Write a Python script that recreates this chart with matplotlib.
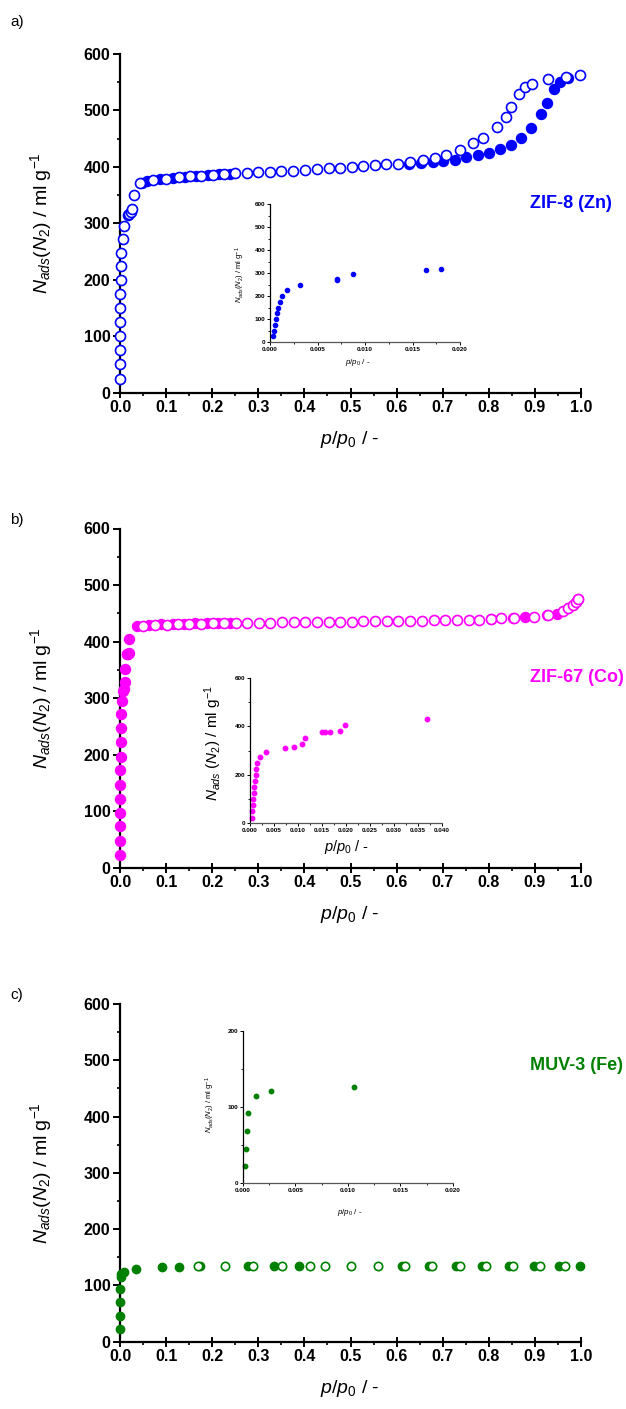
import matplotlib
matplotlib.use("Agg")
import matplotlib.pyplot as plt
from matplotlib.ticker import MultipleLocator

plt.rcParams['font.family'] = ['Liberation Sans', 'DejaVu Sans']
plt.rcParams['mathtext.fontset'] = 'custom'
plt.rcParams['mathtext.rm'] = 'Liberation Sans'
plt.rcParams['mathtext.it'] = 'Liberation Sans:italic'
plt.rcParams['mathtext.bf'] = 'Liberation Sans:bold'

# ---------------- Panel a: ZIF-8 (Zn) ----------------
a_open_x = [0.0003, 0.0005, 0.0006, 0.0006, 0.0007, 0.0008, 0.0010, 0.0013, 0.0018, 0.0032,
            0.0070, 0.0087, 0.0165, 0.0190, 0.0240, 0.0270, 0.0310, 0.0435, 0.0725, 0.1000,
            0.1270, 0.1520, 0.1760, 0.2015, 0.2260, 0.2500, 0.2750, 0.3000, 0.3260, 0.3500,
            0.3760, 0.4020, 0.4280, 0.4530, 0.4780, 0.5040, 0.5280, 0.5530, 0.5780, 0.6040,
            0.6300, 0.6580, 0.6830, 0.7070, 0.7380, 0.7660, 0.7870, 0.8170, 0.8370, 0.8490,
            0.8660, 0.8780, 0.8930, 0.9290, 0.9670, 0.9970]
a_open_y = [25, 50, 75, 100, 125, 150, 175, 200, 224, 248,
            272, 295, 314, 316, 320, 325, 351, 371, 377, 379,
            381.5, 383, 384.5, 385.6, 387, 388.6, 389.5, 390.5, 391.5, 392.5,
            393.5, 395, 396, 397.5, 398.6, 400, 401.6, 403, 404.6, 406,
            409, 412, 416, 421, 430, 442, 452, 470, 489, 505.5,
            530, 541, 547, 555, 559, 563]
a_fill_x = [0.047, 0.0594, 0.087, 0.114, 0.140, 0.165, 0.190, 0.2145, 0.239,
            0.627, 0.652, 0.678, 0.701, 0.727, 0.751, 0.777, 0.801, 0.825, 0.848,
            0.870, 0.891, 0.913, 0.926, 0.942, 0.955, 0.971]
a_fill_y = [372, 375, 378, 380, 382, 384, 385.5, 387, 388,
            406, 407.5, 408.7, 410.5, 413, 417, 420.5, 424, 431, 439,
            452, 469.5, 494, 514, 537.5, 551, 558]
a_in_x = [0.00028, 0.00046, 0.00056, 0.00063, 0.00074, 0.00084, 0.0010, 0.00126, 0.00175,
          0.0032, 0.0070, 0.00705, 0.0087, 0.01646, 0.0180]
a_in_y = [25, 49, 75, 100, 125, 150, 174, 199, 224, 248, 271, 272, 295, 315, 318]

# ---------------- Panel b: ZIF-67 (Co) ----------------
b_fill_x = [0.0004, 0.0005, 0.0006, 0.0007, 0.0008, 0.0009, 0.0010, 0.0012, 0.0013, 0.0015,
            0.0020, 0.0033, 0.0074, 0.0092, 0.0109, 0.0115, 0.0149, 0.0157, 0.0167, 0.0188,
            0.0197, 0.0369, 0.063, 0.089, 0.114, 0.139, 0.163, 0.188, 0.213, 0.238,
            0.805, 0.852, 0.879, 0.926, 0.949, 0.993]
b_fill_y = [22, 48, 73, 97, 122, 147, 173, 196, 222, 247,
            271, 294, 313, 316, 328, 352, 378, 378, 378, 379,
            404, 427, 429.5, 430.5, 431, 431.5, 432, 432, 432.5, 432.5,
            440, 442, 443.6, 446.5, 449.5, 476]
b_open_x = [0.0507, 0.0760, 0.1014, 0.1268, 0.1507, 0.1760, 0.2007, 0.2260, 0.2507, 0.2754,
            0.3007, 0.3260, 0.3510, 0.3770, 0.4020, 0.4280, 0.4530, 0.4780, 0.5040, 0.5280,
            0.5530, 0.5790, 0.6040, 0.6300, 0.6550, 0.6810, 0.7060, 0.7300, 0.7560, 0.7790,
            0.8040, 0.8260, 0.8550, 0.8990, 0.9280, 0.9600, 0.9710, 0.9820, 0.9890, 0.9940]
b_open_y = [428, 429, 430, 430.5, 431, 431.6, 432, 432, 432.5, 433,
            433.5, 433.5, 434, 434, 434.5, 434.6, 435, 435, 435.2, 435.5,
            436, 436, 436.5, 437, 437, 437.5, 438, 438, 438.5, 439,
            440, 441, 442, 444, 447, 454, 459, 465, 470.5, 475]
b_in_x = [0.00035, 0.00048, 0.00063, 0.0007, 0.00083, 0.0009, 0.00104, 0.00118, 0.0013, 0.0015,
          0.0020, 0.00327, 0.00736, 0.0092, 0.0109, 0.0115, 0.0149, 0.0157, 0.0167, 0.0188,
          0.0197, 0.0369]
b_in_y = [21, 48, 73, 97, 122, 147, 172, 198, 223, 247,
          272, 294, 312, 316, 328, 353, 378, 378, 378, 379,
          407, 430]

# ---------------- Panel c: MUV-3 (Fe) ----------------
c_fill_x = [0.0002, 0.0003, 0.0004, 0.0005, 0.0013, 0.0027, 0.0087, 0.0348, 0.0906, 0.129,
            0.1725, 0.2775, 0.3333, 0.389, 0.6123, 0.670, 0.728, 0.786, 0.843, 0.899,
            0.953, 0.998]
c_fill_y = [23, 46, 70, 93, 115, 120.5, 124, 129, 132, 133,
            134, 134.5, 134.5, 134.5, 134.5, 134.5, 134.5, 134.5, 134.5, 134.5,
            134.5, 135]
c_open_x = [0.1688, 0.2268, 0.2884, 0.3514, 0.413, 0.4457, 0.502, 0.5601, 0.618, 0.6775,
            0.737, 0.795, 0.853, 0.911, 0.965]
c_open_y = [135, 135, 135, 135, 135, 135, 135, 135, 135, 135,
            135, 135, 135, 135, 135]
c_in_x = [0.00022, 0.0003, 0.00038, 0.00048, 0.0013, 0.0027, 0.0106]
c_in_y = [23, 45.5, 69, 92, 115, 120.5, 126]

# ---------------- Labels ----------------
panel_tags = ['a)', 'b)', 'c)']
names = ['ZIF-8 (Zn)', 'ZIF-67 (Co)', 'MUV-3 (Fe)']
colors = ['#0000FF', '#FF00FF', '#008000']
main_xticks = [0.0, 0.1, 0.2, 0.3, 0.4, 0.5, 0.6, 0.7, 0.8, 0.9, 1.0]
main_yticks = [0, 100, 200, 300, 400, 500, 600]
ylab = r'$N_{ads}(N_2)$ / ml g$^{-1}$'
xlab = r'$p/p_0$ / -'

W, H = 626, 1409
fig = plt.figure(figsize=(W / 100, H / 100), dpi=100)


def fx(px):
    return px / W


def fy(py):
    return 1 - py / H


def main_axes(top, bottom):
    ax = fig.add_axes([fx(120), fy(bottom), fx(581) - fx(120), (bottom - top) / H])
    ax.set_xlim(0, 1.0)
    ax.set_ylim(0, 600)
    for s in ['top', 'right']:
        ax.spines[s].set_visible(False)
    for s in ['left', 'bottom']:
        ax.spines[s].set_linewidth(1.6)
    ax.set_xticks(main_xticks)
    ax.set_yticks(main_yticks)
    ax.set_xticklabels([f'{v:.1f}' for v in main_xticks])
    ax.xaxis.set_minor_locator(MultipleLocator(0.05))
    ax.yaxis.set_minor_locator(MultipleLocator(50))
    ax.tick_params(axis='y', which='major', direction='out', length=5, width=1.4,
                   labelsize=11.5, pad=2)
    ax.tick_params(axis='y', which='minor', direction='out', length=2.5, width=1.2)
    ax.tick_params(axis='x', which='major', direction='inout', length=7, width=1.4,
                   labelsize=11.5, pad=2)
    ax.tick_params(axis='x', which='minor', direction='out', length=2.5, width=1.2)
    for lab in ax.get_xticklabels() + ax.get_yticklabels():
        lab.set_fontweight('bold')
    return ax


def inset_axes(left, right, top, bottom, xmax, xstep, ymax, ystep, yminor):
    ax = fig.add_axes([fx(left), fy(bottom), (right - left) / W, (bottom - top) / H])
    ax.set_xlim(0, xmax)
    ax.set_ylim(0, ymax)
    for s in ['top', 'right']:
        ax.spines[s].set_visible(False)
    ax.spines['left'].set_linewidth(0.9)
    ax.spines['bottom'].set_linewidth(0.9)
    ax.spines['bottom'].set_color('#555555')
    ax.xaxis.set_major_locator(MultipleLocator(xstep))
    ax.xaxis.set_minor_locator(MultipleLocator(xstep / 2))
    ax.yaxis.set_major_locator(MultipleLocator(ystep))
    ax.yaxis.set_minor_locator(MultipleLocator(yminor))
    ax.xaxis.set_major_formatter(matplotlib.ticker.FormatStrFormatter('%.3f'))
    ax.tick_params(which='major', direction='out', length=2, width=0.7, labelsize=4.6, pad=1.5)
    ax.tick_params(which='minor', direction='out', length=1.2, width=0.6)
    for lab in ax.get_xticklabels() + ax.get_yticklabels():
        lab.set_fontweight('bold')
    return ax


def draw(ax, fx_, fy_, ox, oy, color, ms):
    ax.plot(fx_, fy_, linestyle='none', marker='o', ms=ms, mfc=color, mec=color,
            mew=1.0, clip_on=False, zorder=3)
    ax.plot(ox, oy, linestyle='none', marker='o', ms=ms, mfc='white', mec=color,
            mew=1.2, clip_on=False, zorder=4)


# Panel a
axa = main_axes(54, 392.7)
draw(axa, a_fill_x, a_fill_y, a_open_x, a_open_y, colors[0], 7.2)
# Panel b
axb = main_axes(528.5, 867.7)
draw(axb, b_fill_x, b_fill_y, b_open_x, b_open_y, colors[1], 7.2)
# Panel c
axc = main_axes(1004, 1341.7)
draw(axc, c_fill_x, c_fill_y, c_open_x, c_open_y, colors[2], 6.0)

for ax, top, bottom in [(axa, 54, 392.7), (axb, 528.5, 867.7), (axc, 1004, 1341.7)]:
    mid = (top + bottom) / 2
    fig.text(fx(41), fy(mid), ylab, rotation=90, ha='center', va='center', fontsize=14)
    fig.text(fx(350), fy(bottom + 47), xlab, ha='center', va='center', fontsize=14)

for tag, ty in zip(panel_tags, [22, 520, 995]):
    fig.text(fx(10), fy(ty), tag, ha='left', va='center', fontsize=11)

for name, ty, col in zip(names, [204, 677, 1066], colors):
    fig.text(fx(530), fy(ty), name, ha='left', va='center', fontsize=13,
             fontweight='bold', color=col)

# Insets
ia = inset_axes(270, 460, 204, 342, 0.020, 0.005, 600, 100, 50)
ia.plot(a_in_x, a_in_y, linestyle='none', marker='o', ms=3.0, color=colors[0], clip_on=False)
fig.text(fx(240), fy(275), ylab, rotation=90, ha='center', va='center', fontsize=5.5)
fig.text(fx(358), fy(363), xlab, ha='center', va='center', fontsize=5.8)

ib = inset_axes(250, 442, 678.3, 822.7, 0.040, 0.005, 600, 200, 100)
ib.plot(b_in_x, b_in_y, linestyle='none', marker='o', ms=3.2, color=colors[1], clip_on=False)
fig.text(fx(213), fy(743), r'$N_{ads}$ $(N_2)$ / ml g$^{-1}$', rotation=90,
         ha='center', va='center', fontsize=11)
fig.text(fx(347), fy(847), xlab, ha='center', va='center', fontsize=10.5)

ic = inset_axes(242.7, 453, 1030.7, 1183.3, 0.020, 0.005, 200, 100, 50)
ic.plot(c_in_x, c_in_y, linestyle='none', marker='o', ms=3.2, color=colors[2], clip_on=False)
fig.text(fx(210), fy(1105), ylab, rotation=90, ha='center', va='center', fontsize=5.5)
fig.text(fx(350), fy(1212), xlab, ha='center', va='center', fontsize=5.8)

fig.savefig('out.png', dpi=100)
